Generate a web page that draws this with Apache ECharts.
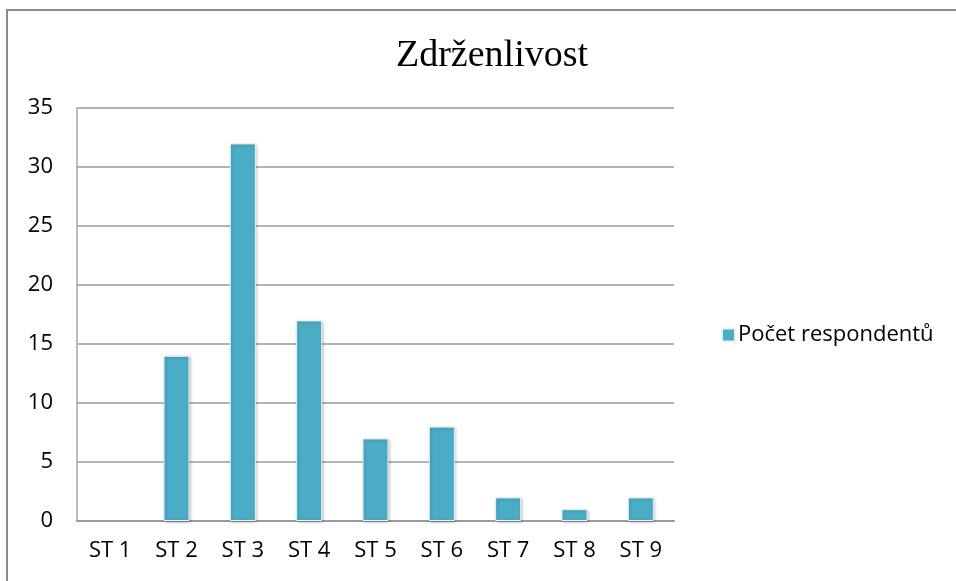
<!DOCTYPE html>
<html>
<head>
<meta charset="utf-8">
<script src="https://cdn.jsdelivr.net/npm/echarts@6/dist/echarts.min.js"></script>
<style>
html, body { margin: 0; padding: 0; background: #fff; }
#chart { width: 956px; height: 581px; }
</style>
</head>
<body>
<div id="chart"></div>
<script>
// data
var categories = ["ST 1", "ST 2", "ST 3", "ST 4", "ST 5", "ST 6", "ST 7", "ST 8", "ST 9"];
var respondents = [0, 14, 32, 17, 7, 8, 2, 1, 2];
var seriesName = "Počet respondentů";

var myChart = echarts.init(document.getElementById('chart'));

// zero bars should not show border/shadow
var barData = respondents.map(function (v) {
    if (v === 0) {
        return { value: v, itemStyle: { borderWidth: 0, shadowBlur: 0, shadowOffsetX: 0, shadowOffsetY: 0 } };
    }
    return v;
});

var option = {
    backgroundColor: '#fff',
    animation: false,
    // outer frame (left and top edge visible)
    graphic: [{
        type: 'polyline',
        x: 0, y: 0,
        shape: { points: [[7, 600], [7, 10], [960, 10]] },
        style: { fill: 'none', stroke: '#8c8c8c', lineWidth: 2 },
        silent: true
    }],
    title: {
        text: "Zdrženlivost",
        left: 487, top: 32,
        textAlign: 'center',
        textStyle: {
            fontFamily: 'Liberation Serif',
            fontWeight: 'normal',
            fontSize: 38,
            color: '#000'
        }
    },
    legend: {
        data: [seriesName],
        left: 716, top: 319,
        itemWidth: 13, itemHeight: 13,
        itemGap: 5,
        icon: 'rect',
        textStyle: { fontFamily: 'Open Sans', fontSize: 22, color: '#000', padding: [0, 0, 0, -2] }
    },
    grid: { left: 77, right: 282, top: 108, bottom: 60 },
    xAxis: {
        type: 'category',
        data: categories,
        axisLine: { lineStyle: { color: '#9a9a9a', width: 2 } },
        axisTick: { show: false },
        axisLabel: { fontFamily: 'Open Sans', fontSize: 22, color: '#000', margin: 19 }
    },
    yAxis: {
        type: 'value',
        min: 0, max: 35, interval: 5,
        axisLine: { show: true, lineStyle: { color: '#a6a6a6', width: 1.5 } },
        axisTick: { show: false },
        splitLine: { lineStyle: { color: '#9a9a9a', width: 1.5 } },
        axisLabel: { fontFamily: 'Open Sans', fontSize: 22, color: '#000', margin: 24 }
    },
    series: [{
        name: seriesName,
        type: 'bar',
        barWidth: 26,
        data: barData,
        itemStyle: {
            color: '#4bacc6',
            borderColor: '#e8f4f8',
            borderWidth: 1,
            shadowColor: 'rgba(0,0,0,0.25)',
            shadowBlur: 3,
            shadowOffsetX: 1,
            shadowOffsetY: 1
        }
    }]
};

myChart.setOption(option);
</script>
</body>
</html>
